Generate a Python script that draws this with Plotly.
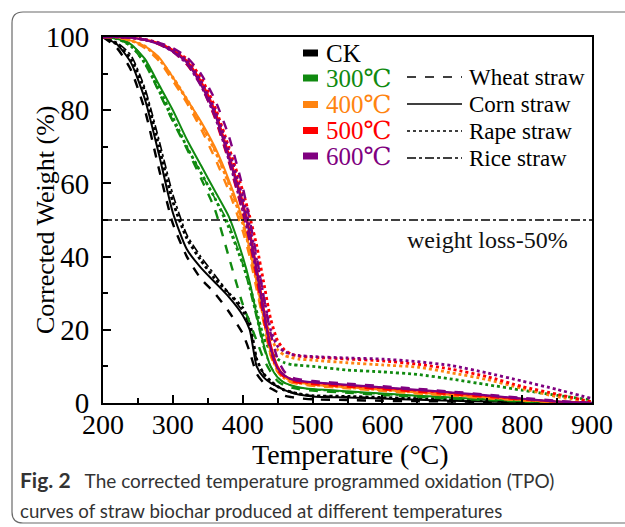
import plotly.graph_objects as go

# Temperature grid (°C) shared by all TPO curves
temperature = [200, 220, 240, 260, 280, 300, 320, 340, 360, 380, 400, 410, 420, 430,
               440, 450, 460, 470, 480, 500, 550, 600, 650, 700, 750, 800, 850, 900]

# Corrected weight (%) for each pyrolysis temperature and straw type
ck_wheat = [100, 97, 91, 80, 64, 49, 40, 34, 30, 25, 19, 14, 8, 5.5, 4, 3, 2, 1.6, 1.3, 1, 0.8, 0.6, 0.5, 0.4, 0.3, 0.2, 0.1, 0]
ck_corn = [100, 98, 93, 83, 68, 52, 42, 37, 33, 29, 24, 20, 10, 7, 5.5, 4.5, 3.5, 2.8, 2.3, 1.8, 1.5, 1.2, 0.9, 0.6, 0.4, 0.2, 0.1, 0]
ck_rape = [100, 98, 94, 85, 70, 55, 45, 39, 34, 30, 26, 22, 12, 8, 6, 4.5, 3.5, 3, 2.5, 2, 1.8, 1.5, 1.2, 1, 0.7, 0.4, 0.2, 0]
ck_rice = [100, 98.5, 95, 86, 72, 57, 46, 40, 35, 30, 25, 21, 12, 8, 5.5, 4.5, 3.5, 3, 2.5, 2, 1.7, 1.4, 1.1, 0.8, 0.5, 0.3, 0.1, 0]

t300_wheat = [100, 99.5, 98, 93.5, 85, 77, 69.5, 61.5, 53, 40, 27, 22, 17, 12, 8.5, 6, 4.8, 4.2, 3.8, 3.4, 2.8, 2.2, 1.7, 1.2, 0.8, 0.4, 0.1, 0]
t300_corn = [100, 99.5, 98, 94, 87, 80, 72, 65, 58, 51, 40, 33, 24, 16, 10, 7, 5.5, 4.8, 4.3, 3.8, 3.2, 2.6, 2, 1.5, 1, 0.5, 0.2, 0]
t300_rape = [100, 99.5, 97.5, 93, 86, 78, 70, 63, 56, 48, 38, 32, 25, 18, 14, 12, 11, 10.5, 10.3, 10, 9, 8.5, 7.8, 6.5, 5, 3.5, 2.1, 0.8]
t300_rice = [100, 99.5, 97.5, 92.5, 85, 77, 70, 63, 56, 49, 38, 31, 23, 15, 10, 7, 5.5, 4.7, 4.2, 3.7, 3, 2.4, 1.8, 1.3, 0.9, 0.5, 0.2, 0]

t400_wheat = [100, 99.8, 99, 97, 93.5, 88, 82, 75, 67, 58, 47, 40, 31, 22, 13, 8.5, 6.5, 5.6, 5.2, 4.7, 4, 3.3, 2.6, 2, 1.3, 0.7, 0.2, 0]
t400_corn = [100, 100, 99, 97.5, 94.5, 89, 83, 77, 70, 61, 50, 42, 33, 23, 14, 9, 7, 6, 5.6, 5, 4.3, 3.6, 2.9, 2.2, 1.5, 0.8, 0.3, 0]
t400_rape = [100, 100, 99, 97.5, 94, 89, 83, 76.5, 69, 60, 49, 42, 34, 25, 18, 14.5, 13, 12.4, 12, 11.7, 11, 10.4, 9.8, 8.2, 6.4, 4, 1.7, 0.3]
t400_rice = [100, 99.8, 99, 97.3, 94, 88.5, 82.5, 76, 69, 60, 49, 41, 32, 22, 13, 8.5, 6.5, 5.7, 5.3, 4.8, 4.1, 3.4, 2.7, 2, 1.4, 0.7, 0.2, 0]

t500_wheat = [100, 100, 99.8, 99.2, 98, 96, 92.5, 87, 78, 66, 52, 44, 34, 23, 14, 9, 7, 6, 5.6, 5.2, 4.5, 3.8, 3.1, 2.4, 1.7, 1, 0.4, 0]
t500_corn = [100, 100, 99.8, 99.3, 98.3, 96.5, 93.5, 88, 80, 68, 55, 47, 37, 26, 16, 10, 7.5, 6.5, 6, 5.5, 4.8, 4.1, 3.4, 2.7, 1.9, 1.1, 0.4, 0]
t500_rape = [100, 100, 99.8, 99.3, 98.4, 96.5, 94, 89, 81, 70, 58, 51, 43, 33, 23, 17, 14.5, 13.3, 12.8, 12.5, 12, 11.5, 10.6, 9.2, 7.2, 4.5, 2.4, 0.3]
t500_rice = [100, 100, 99.8, 99.2, 98.2, 96.2, 93, 87.5, 79, 67, 53, 45, 35, 24, 15, 9.5, 7.3, 6.3, 5.8, 5.4, 4.7, 4, 3.3, 2.6, 1.8, 1, 0.4, 0]

t600_wheat = [100, 100, 99.8, 99.3, 98.4, 97, 94.5, 90, 83, 73, 59, 50, 40, 29, 19, 12, 8.5, 7, 6.5, 6, 5.3, 4.6, 3.9, 3.1, 2.3, 1.4, 0.6, 0]
t600_corn = [100, 100, 99.8, 99.2, 98, 96, 93, 87, 79, 67, 54, 46, 36, 25, 15, 9.5, 7.5, 6.5, 6.1, 5.7, 5, 4.3, 3.6, 2.9, 2.1, 1.2, 0.4, 0]
t600_rape = [100, 100, 99.8, 99.3, 98.3, 96.5, 93.5, 88, 80, 69, 56, 48, 39, 29, 20, 15.5, 14, 13.3, 13, 12.7, 12.3, 12, 11.3, 10.2, 8.2, 6, 3.7, 1.2]
t600_rice = [100, 100, 99.8, 99.2, 98, 95.8, 92.5, 86.5, 78, 66, 52, 44, 35, 24, 14.5, 9.3, 7.4, 6.4, 6, 5.6, 4.9, 4.2, 3.5, 2.8, 2, 1.1, 0.4, 0]

groups = ["CK", "300℃", "400℃", "500℃", "600℃"]
group_colors = ["#000000", "#108a10", "#ff8410", "#ff0000", "#800080"]
straws = ["Wheat straw", "Corn straw", "Rape straw", "Rice straw"]
straw_dash = ["dash", "solid", "dot", "dashdot"]
straw_width = [2.4, 2.0, 2.8, 1.6]

series = [
    [ck_wheat, ck_corn, ck_rape, ck_rice],
    [t300_wheat, t300_corn, t300_rape, t300_rice],
    [t400_wheat, t400_corn, t400_rape, t400_rice],
    [t500_wheat, t500_corn, t500_rape, t500_rice],
    [t600_wheat, t600_corn, t600_rape, t600_rice],
]

half_loss = 50

SERIF = "Liberation Serif, Times New Roman, serif"
SERIF_SYM = "Liberation Serif, DejaVu Serif, Noto Sans CJK SC, serif"
CAPTION = "Lato, Noto Sans, sans-serif"

W, H = 625, 527
L, R, T, B = 103, 592, 37, 403


def px(x, y):
    """Convert page pixel position to paper coordinates."""
    return (x - L) / (R - L), (B - y) / (B - T)


fig = go.Figure()

for gi, gname in enumerate(groups):
    for si, sname in enumerate(straws):
        fig.add_trace(go.Scatter(
            x=temperature, y=series[gi][si], mode="lines",
            name=f"{gname} {sname}",
            line=dict(color=group_colors[gi], dash=straw_dash[si],
                      width=straw_width[si], shape="spline", smoothing=0.6),
            showlegend=False, hoverinfo="skip",
        ))

# 50 % weight-loss reference line
fig.add_hline(y=half_loss, line=dict(color="#000000", dash="dashdot", width=1.6))
fig.add_annotation(x=750, y=44.5, xref="x", yref="y", text="weight loss-50%",
                   showarrow=False, font=dict(family=SERIF, size=24, color="#111111"))

shapes = []
annotations = []

# Colour key (pyrolysis temperature)
key_rows = [53, 78, 104.5, 130.5, 156]
for yy, gname, col in zip(key_rows, groups, group_colors):
    x0, y0 = px(303, yy - 3.5)
    x1, y1 = px(318, yy + 3.5)
    shapes.append(dict(type="rect", xref="paper", yref="paper", x0=x0, x1=x1, y0=y0, y1=y1,
                       fillcolor=col, line=dict(width=0)))
    tx, ty = px(324, yy)
    annotations.append(dict(xref="paper", yref="paper", x=tx, y=ty, text=gname, showarrow=False,
                            xanchor="left", yanchor="middle",
                            font=dict(family=SERIF_SYM, size=25, color=col)))

# Line-style key (straw type)
style_rows = [77, 104, 131, 158]
for yy, sname, dsh in zip(style_rows, straws, straw_dash):
    x0, ly = px(407, yy)
    x1, _ = px(462, yy)
    shapes.append(dict(type="line", xref="paper", yref="paper", x0=x0, x1=x1, y0=ly, y1=ly,
                       line=dict(color="#000000", dash=dsh, width=1.6)))
    tx, ty = px(467, yy)
    annotations.append(dict(xref="paper", yref="paper", x=tx, y=ty, text=sname, showarrow=False,
                            xanchor="left", yanchor="middle",
                            font=dict(family=SERIF, size=23, color="#000000")))

# Axis titles
tx, ty = px(350, 454)
annotations.append(dict(xref="paper", yref="paper", x=tx, y=ty, text="Temperature (°C)",
                        showarrow=False, xanchor="center", yanchor="middle",
                        font=dict(family=SERIF, size=28, color="#000000")))
tx, ty = px(45, 220)
annotations.append(dict(xref="paper", yref="paper", x=tx, y=ty, text="Corrected Weight (%)",
                        showarrow=False, xanchor="center", yanchor="middle", textangle=-90,
                        font=dict(family=SERIF, size=26, color="#000000")))

# Rounded card frame around the figure
cx0, cy0, cx1, cy1, rad = 12, 12, 645, 523, 11


def P(x, y):
    a, b = px(x, y)
    return f"{a:.5f},{b:.5f}"


path = (f"M {P(cx0 + rad, cy0)} L {P(cx1 - rad, cy0)} Q {P(cx1, cy0)} {P(cx1, cy0 + rad)} "
        f"L {P(cx1, cy1 - rad)} Q {P(cx1, cy1)} {P(cx1 - rad, cy1)} "
        f"L {P(cx0 + rad, cy1)} Q {P(cx0, cy1)} {P(cx0, cy1 - rad)} "
        f"L {P(cx0, cy0 + rad)} Q {P(cx0, cy0)} {P(cx0 + rad, cy0)} Z")
shapes.append(dict(type="path", xref="paper", yref="paper", path=path,
                   line=dict(color="#6a6a6a", width=1.2), fillcolor="rgba(0,0,0,0)", layer="below"))

# Caption
cx, cyy = px(18, 479)
annotations.append(dict(xref="paper", yref="paper", x=cx, y=cyy, xanchor="left", yanchor="middle",
                        showarrow=False,
                        text="<span style='font-size:21px'><b>Fig. 2</b></span>&nbsp;&nbsp;&nbsp;"
                             "The corrected temperature programmed oxidation (TPO)",
                        font=dict(family=CAPTION, size=19, color="#333333")))
cx, cyy = px(18, 511)
annotations.append(dict(xref="paper", yref="paper", x=cx, y=cyy, xanchor="left", yanchor="middle",
                        showarrow=False,
                        text="curves of straw biochar produced at different temperatures",
                        font=dict(family=CAPTION, size=18.7, color="#333333")))

fig.update_layout(
    width=W, height=H,
    margin=dict(l=L, r=W - R, t=T, b=H - B, pad=0),
    paper_bgcolor="white", plot_bgcolor="white",
    shapes=list(fig.layout.shapes) + shapes,
    annotations=list(fig.layout.annotations) + annotations,
    font=dict(family=SERIF, color="#000000"),
)

fig.update_xaxes(
    range=[200, 900], tickvals=[200, 300, 400, 500, 600, 700, 800, 900],
    ticks="inside", ticklen=8, tickwidth=1.5, tickcolor="#000000",
    minor=dict(tickvals=[250, 350, 450, 550, 650, 750, 850], ticks="inside", ticklen=5,
               tickwidth=1.5, tickcolor="#000000"),
    showline=True, linecolor="#000000", linewidth=2, mirror=True,
    showgrid=False, zeroline=False,
    tickfont=dict(family=SERIF, size=28), ticklabelstandoff=-5,
)
fig.update_yaxes(
    range=[0, 100], tickvals=[0, 20, 40, 60, 80, 100],
    ticks="inside", ticklen=8, tickwidth=1.5, tickcolor="#000000",
    minor=dict(tickvals=[10, 30, 50, 70, 90], ticks="inside", ticklen=5,
               tickwidth=1.5, tickcolor="#000000"),
    showline=True, linecolor="#000000", linewidth=2, mirror=True,
    showgrid=False, zeroline=False,
    tickfont=dict(family=SERIF, size=29), ticklabelstandoff=6,
)

fig.write_html("out.html")
